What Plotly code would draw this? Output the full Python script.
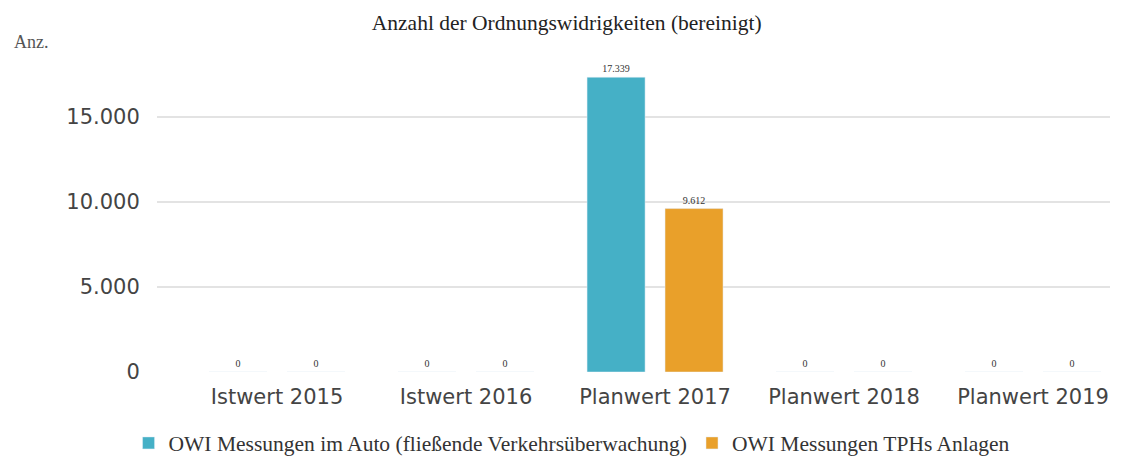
import plotly.graph_objects as go

categories = ["Istwert 2015", "Istwert 2016", "Planwert 2017", "Planwert 2018", "Planwert 2019"]
series_auto = [0, 0, 17339, 0, 0]
series_tph = [0, 0, 9612, 0, 0]
name_auto = "OWI Messungen im Auto (fließende Verkehrsüberwachung)"
name_tph = "OWI Messungen TPHs Anlagen"
y_ticks = [0, 5000, 10000, 15000]


def de_fmt(v):
    return f"{v:,}".replace(",", ".")


serif = "Liberation Serif, Times New Roman, serif"
sans = "DejaVu Sans, Verdana, sans-serif"

fig = go.Figure()
fig.add_trace(go.Bar(
    x=categories, y=series_auto, name=name_auto,
    marker_color="#45B0C6",
    text=[de_fmt(v) for v in series_auto], textposition="outside",
    textfont=dict(family=serif, size=10, color="#333333"),
    cliponaxis=False,
))
fig.add_trace(go.Bar(
    x=categories, y=series_tph, name=name_tph,
    marker_color="#E9A02A",
    text=[de_fmt(v) for v in series_tph], textposition="outside",
    textfont=dict(family=serif, size=10, color="#333333"),
    cliponaxis=False,
))

fig.update_layout(
    width=1138, height=459,
    margin=dict(l=157, r=28, t=45, b=87, autoexpand=False),
    paper_bgcolor="white", plot_bgcolor="white",
    separators=",.",
    barmode="group", bargap=0.175, bargroupgap=0.256,
    title=dict(text="Anzahl der Ordnungswidrigkeiten (bereinigt)", x=0.498, xanchor="center",
               y=0.952, yanchor="middle",
               font=dict(family=serif, size=21.5, color="#222222")),
    showlegend=True,
    legend=dict(orientation="h", x=0.435, xanchor="center",
                yref="container", y=0.035, yanchor="middle",
                font=dict(family=serif, size=21.5, color="#333333"),
                itemwidth=30, traceorder="normal"),
    xaxis=dict(range=[-0.635, 4.407], showgrid=False, zeroline=False, showline=False,
               ticks="outside", ticklen=6, tickcolor="rgba(0,0,0,0)",
               tickfont=dict(family=sans, size=21, color="#444444")),
    yaxis=dict(range=[0, 19235], tickvals=y_ticks, ticktext=[de_fmt(v) for v in y_ticks],
               showgrid=True, gridcolor="#e3e3e3", gridwidth=1.5, zeroline=False, showline=False,
               ticks="outside", ticklen=12, tickcolor="rgba(0,0,0,0)",
               tickfont=dict(family=sans, size=21, color="#444444")),
    annotations=[dict(text="Anz.", xref="paper", yref="paper", x=-0.152, y=1.01,
                      xanchor="left", yanchor="middle", showarrow=False,
                      font=dict(family=serif, size=18, color="#555555"))],
)

fig.write_html("out.html", config={"displayModeBar": False},
               post_script="document.body.style.margin='0';")
